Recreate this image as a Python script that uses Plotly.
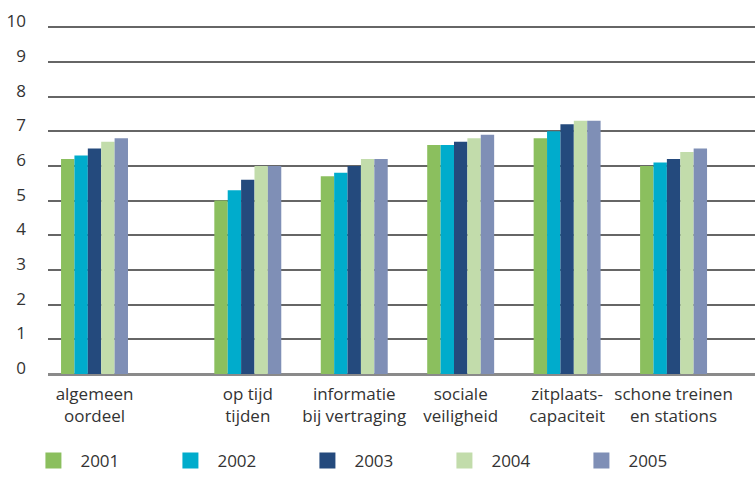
import plotly.graph_objects as go

# Survey scores (0-10) per aspect, per year
categories = [
    "algemeen<br>oordeel",
    "op tijd<br>tijden",
    "informatie<br>bij vertraging",
    "sociale<br>veiligheid",
    "zitplaats-<br>capaciteit",
    "schone treinen<br>en stations",
]
years = ["2001", "2002", "2003", "2004", "2005"]
scores_2001 = [6.2, 5.0, 5.7, 6.6, 6.8, 6.0]
scores_2002 = [6.3, 5.3, 5.8, 6.6, 7.0, 6.1]
scores_2003 = [6.5, 5.6, 6.0, 6.7, 7.2, 6.2]
scores_2004 = [6.7, 6.0, 6.2, 6.8, 7.3, 6.4]
scores_2005 = [6.8, 6.0, 6.2, 6.9, 7.3, 6.5]
y_ticks = list(range(0, 11))

colors = ["#8BBF5E", "#00ACCC", "#244A7D", "#C2DCAB", "#7F8FB6"]
series = [scores_2001, scores_2002, scores_2003, scores_2004, scores_2005]

# first group sits a bit apart from the rest
extra_gap = 0.44
xpos = [i + (extra_gap if i > 0 else 0) for i in range(len(categories))]

FONT = "Open Sans, Lato, sans-serif"
TXT = "#333333"

fig = go.Figure()
for year, vals, col in zip(years, series, colors):
    fig.add_trace(go.Bar(x=xpos, y=vals, name=year, marker_color=col,
                         marker_line_width=0, showlegend=False))
    # legend proxy with a larger square symbol
    fig.add_trace(go.Scatter(x=[None], y=[None], mode="markers", name=year,
                             marker=dict(symbol="square", size=18, color=col)))

fig.update_layout(
    width=755, height=479,
    margin=dict(l=48, r=0, t=22, b=105),
    paper_bgcolor="white", plot_bgcolor="white",
    barmode="group", bargap=0.371, bargroupgap=0,
    font=dict(family=FONT, size=16, color=TXT),
    legend=dict(orientation="h", xref="container", yref="container",
                x=0.035, xanchor="left", y=-0.018, yanchor="bottom",
                entrywidth=78, entrywidthmode="pixels", font=dict(size=17, color=TXT),
                itemsizing="trace", itemwidth=44),
)
fig.update_xaxes(
    range=[-0.437, 6.205], tickvals=xpos, ticktext=categories,
    showgrid=False, zeroline=False, showline=False, ticks="",
    ticklabelstandoff=8, tickfont=dict(size=17, color=TXT),
)
fig.update_yaxes(
    range=[0, 10.15], tickvals=y_ticks, showgrid=True, gridcolor="#666666", gridwidth=2,
    zeroline=True, zerolinecolor="#8a8a8a", zerolinewidth=2.5,
    ticks="", ticklabelstandoff=21, ticklabelshift=-6,
    tickfont=dict(size=17, color=TXT),
)

# drop the browser's default 8px body margin so the figure sits at the page origin
fig.write_html("out.html", config={"displayModeBar": False},
               post_script="document.body.style.margin='0';")
